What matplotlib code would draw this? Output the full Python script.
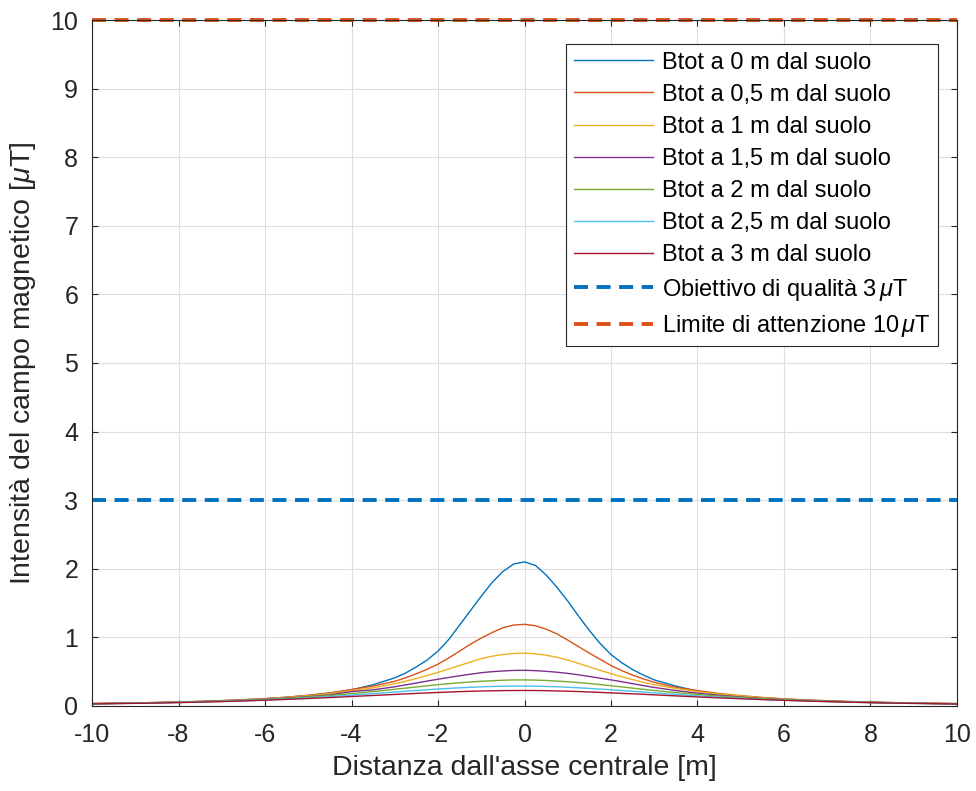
import numpy as np
import matplotlib
matplotlib.use('Agg')
import matplotlib.pyplot as plt

plt.rcParams['font.family'] = ['Liberation Sans', 'DejaVu Sans']
plt.rcParams['mathtext.fontset'] = 'custom'
plt.rcParams['mathtext.rm'] = 'Liberation Sans'
plt.rcParams['mathtext.it'] = 'Liberation Sans:italic'
plt.rcParams['axes.unicode_minus'] = False

# distanza dall'asse centrale [m] (passo piu' fitto vicino al centro)
distanza = np.r_[np.arange(-10, -3.4, 0.5), np.arange(-3, 3.01, 0.25), np.arange(3.5, 10.01, 0.5)]

# campo magnetico [uT], una lista per altezza dal suolo
b_0m = [0.035, 0.039, 0.044, 0.050, 0.057, 0.066, 0.077, 0.090, 0.106, 0.127, 0.154, 0.19, 0.235, 0.31,
        0.41, 0.48, 0.57, 0.67, 0.80, 0.97, 1.18, 1.39, 1.60, 1.80, 1.96, 2.07,
        2.10,
        2.05, 1.91, 1.73, 1.53, 1.31, 1.10, 0.91, 0.75, 0.63, 0.53, 0.45, 0.38,
        0.29, 0.215, 0.17, 0.140, 0.118, 0.100, 0.085, 0.073, 0.063, 0.055, 0.048, 0.043, 0.038, 0.034]
b_05m = [0.036, 0.040, 0.045, 0.051, 0.058, 0.067, 0.078, 0.091, 0.107, 0.128, 0.155, 0.19, 0.24, 0.29,
         0.36, 0.41, 0.47, 0.535, 0.61, 0.70, 0.80, 0.90, 0.99, 1.07, 1.14, 1.18,
         1.19,
         1.17, 1.12, 1.05, 0.96, 0.865, 0.77, 0.68, 0.59, 0.515, 0.45, 0.395, 0.345,
         0.27, 0.225, 0.182, 0.150, 0.124, 0.104, 0.088, 0.076, 0.066, 0.057, 0.050, 0.044, 0.039, 0.035]
b_1m = [0.035, 0.039, 0.044, 0.050, 0.057, 0.066, 0.076, 0.089, 0.104, 0.124, 0.148, 0.18, 0.225, 0.265,
        0.325, 0.36, 0.40, 0.445, 0.49, 0.54, 0.59, 0.64, 0.69, 0.725, 0.75, 0.765,
        0.77,
        0.76, 0.74, 0.71, 0.67, 0.62, 0.57, 0.52, 0.47, 0.425, 0.385, 0.345, 0.31,
        0.255, 0.21, 0.174, 0.144, 0.120, 0.100, 0.085, 0.073, 0.063, 0.055, 0.048, 0.043, 0.038, 0.034]
b_15m = [0.033, 0.037, 0.042, 0.048, 0.054, 0.062, 0.072, 0.084, 0.098, 0.115, 0.136, 0.162, 0.21, 0.235,
         0.28, 0.307, 0.335, 0.363, 0.39, 0.416, 0.44, 0.463, 0.485, 0.50, 0.51, 0.518,
         0.52,
         0.515, 0.505, 0.492, 0.475, 0.454, 0.43, 0.405, 0.38, 0.353, 0.325, 0.297, 0.27,
         0.225, 0.187, 0.155, 0.13, 0.11, 0.094, 0.080, 0.069, 0.060, 0.052, 0.046, 0.041, 0.036, 0.032]
b_2m = [0.033, 0.037, 0.042, 0.047, 0.054, 0.062, 0.071, 0.082, 0.094, 0.11, 0.130, 0.153, 0.18, 0.21,
        0.243, 0.26, 0.277, 0.294, 0.31, 0.325, 0.338, 0.35, 0.36, 0.368, 0.375, 0.379,
        0.38,
        0.377, 0.372, 0.363, 0.353, 0.341, 0.327, 0.312, 0.295, 0.278, 0.26, 0.243, 0.226,
        0.195, 0.168, 0.144, 0.124, 0.107, 0.092, 0.079, 0.068, 0.059, 0.052, 0.046, 0.040, 0.036, 0.032]
b_25m = [0.031, 0.035, 0.040, 0.045, 0.051, 0.058, 0.067, 0.077, 0.089, 0.103, 0.119, 0.138, 0.158, 0.18,
         0.203, 0.215, 0.226, 0.237, 0.247, 0.256, 0.265, 0.272, 0.279, 0.284, 0.287, 0.289,
         0.29,
         0.288, 0.285, 0.28, 0.273, 0.265, 0.256, 0.246, 0.236, 0.225, 0.214, 0.203, 0.191,
         0.169, 0.148, 0.129, 0.112, 0.097, 0.084, 0.073, 0.064, 0.056, 0.049, 0.043, 0.038, 0.034, 0.030]
b_3m = [0.030, 0.034, 0.038, 0.043, 0.049, 0.056, 0.064, 0.073, 0.084, 0.096, 0.109, 0.123, 0.138, 0.153,
        0.168, 0.176, 0.183, 0.19, 0.197, 0.203, 0.209, 0.214, 0.218, 0.221, 0.224, 0.225,
        0.226,
        0.225, 0.223, 0.219, 0.215, 0.21, 0.204, 0.198, 0.191, 0.184, 0.177, 0.17, 0.162,
        0.147, 0.132, 0.118, 0.105, 0.093, 0.082, 0.072, 0.063, 0.055, 0.048, 0.042, 0.037, 0.033, 0.029]

curve = [b_0m, b_05m, b_1m, b_15m, b_2m, b_25m, b_3m]
etichette = ['Btot a 0 m dal suolo', 'Btot a 0,5 m dal suolo', 'Btot a 1 m dal suolo',
             'Btot a 1,5 m dal suolo', 'Btot a 2 m dal suolo', 'Btot a 2,5 m dal suolo',
             'Btot a 3 m dal suolo']
colori = ['#0072BD', '#D95319', '#EDB120', '#7E2F8E', '#77AC30', '#4DBEEE', '#A2142F']

obiettivo_qualita = 3
limite_attenzione = 10

fig = plt.figure(figsize=(9.76, 7.91), dpi=100)
ax = fig.add_axes([0.0943, 0.1075, 0.8862, 0.8672])

for y, lab, c in zip(curve, etichette, colori):
    ax.plot(distanza, y, color=c, lw=1.0, label=lab)

l1, = ax.plot([-10, 10], [obiettivo_qualita, obiettivo_qualita], color='#0072BD', lw=2.8,
              label='Obiettivo di qualità 3$\\,\\mu$T')
l2, = ax.plot([-10, 10], [limite_attenzione, limite_attenzione], color='#D95319', lw=2.8,
              label='Limite di attenzione 10$\\,\\mu$T', clip_on=False)
for l in (l1, l2):
    l.set_dashes((3.6, 2.2))

ax.set_xlim(-10, 10)
ax.set_ylim(0, 10)
ax.set_xticks(np.arange(-10, 11, 2))
ax.set_yticks(np.arange(0, 11, 1))
ax.grid(True, color='#dedede', lw=0.8)
ax.set_axisbelow(True)

for s in ax.spines.values():
    s.set_color('#262626')
    s.set_linewidth(0.8)
ax.tick_params(axis='both', direction='in', top=True, right=True, length=4,
               width=0.8, color='#262626', labelsize=18, labelcolor='#262626')
ax.tick_params(axis='x', pad=12)
ax.tick_params(axis='y', pad=10)

ax.set_xlabel("Distanza dall'asse centrale [m]", fontsize=20.5, color='#262626', labelpad=6)
ax.set_ylabel('Intensità del campo magnetico [$\\mu$T]', fontsize=20.5, color='#262626', labelpad=9)

leg = ax.legend(loc='upper right', bbox_to_anchor=(0.978, 0.965), fontsize=17,
                handlelength=3.35, handletextpad=0.38, labelspacing=0.43, borderpad=0.32,
                borderaxespad=0, fancybox=False, framealpha=1, edgecolor='#262626')
leg.get_frame().set_linewidth(0.8)

plt.savefig('out.png', dpi=100, facecolor='white')
